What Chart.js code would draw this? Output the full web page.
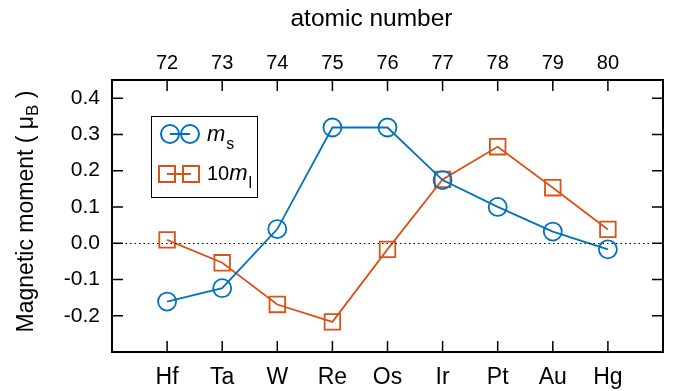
<!DOCTYPE html>
<html>
<head>
<meta charset="utf-8">
<script src="https://cdn.jsdelivr.net/npm/chart.js@4.4.1/dist/chart.umd.min.js"></script>
<style>
  body { margin: 0; background: #fff; }
  canvas { display: block; }
</style>
</head>
<body>
<canvas id="chart" width="679" height="391"></canvas>
<script>
// data
const elements = ['Hf', 'Ta', 'W', 'Re', 'Os', 'Ir', 'Pt', 'Au', 'Hg'];
const atomicNumbers = [72, 73, 74, 75, 76, 77, 78, 79, 80];
const ms = [-0.161, -0.124, 0.039, 0.319, 0.319, 0.174, 0.100, 0.032, -0.017];
const ml10 = [0.009, -0.054, -0.169, -0.217, -0.017, 0.176, 0.266, 0.153, 0.038];
const yTicks = [-0.2, -0.1, 0.0, 0.1, 0.2, 0.3, 0.4];

const FONT = "'Liberation Sans', Arial, Helvetica, sans-serif";
const BLUE = '#0072BD';
const ORANGE = '#D95319';

const positions = elements.map((e, i) => i + 1);

// inward ticks, frame, zero line, titles and legend
const decorations = {
    id: 'decorations',
    afterDatasetsDraw(chart) {
        const { ctx, chartArea: a, scales } = chart;
        const x = scales.x, y = scales.y;
        ctx.save();

        // dotted zero line
        const y0 = Math.round(y.getPixelForValue(0)) + 0.5;
        ctx.strokeStyle = '#000';
        ctx.lineWidth = 1;
        ctx.setLineDash([1.5, 3]);
        ctx.beginPath();
        ctx.moveTo(a.left, y0);
        ctx.lineTo(a.right, y0);
        ctx.stroke();
        ctx.setLineDash([]);

        // tick marks pointing into the plot
        const tl = 11;
        ctx.lineWidth = 1.5;
        ctx.beginPath();
        positions.forEach(p => {
            const px = x.getPixelForValue(p);
            ctx.moveTo(px, a.bottom); ctx.lineTo(px, a.bottom - tl);
            ctx.moveTo(px, a.top); ctx.lineTo(px, a.top + tl);
        });
        yTicks.forEach(v => {
            const py = y.getPixelForValue(v);
            ctx.moveTo(a.left, py); ctx.lineTo(a.left + tl, py);
            ctx.moveTo(a.right, py); ctx.lineTo(a.right - tl, py);
        });
        ctx.stroke();

        // frame
        ctx.lineWidth = 2;
        ctx.strokeRect(a.left, a.top, a.right - a.left, a.bottom - a.top);

        // top title
        ctx.fillStyle = '#000';
        ctx.font = '24.5px ' + FONT;
        ctx.textAlign = 'center';
        ctx.textBaseline = 'alphabetic';
        ctx.fillText('atomic number', 371.5, 26);

        // y title with subscript
        ctx.save();
        ctx.translate(33, 211.5);
        ctx.rotate(-Math.PI / 2);
        ctx.textAlign = 'left';
        ctx.textBaseline = 'alphabetic';
        const main = '23px ' + FONT, sub = '17px ' + FONT;
        const parts = [['Magnetic moment ( \u03bc', main, 0], ['B', sub, 5], [' )', main, 0]];
        let total = 0;
        parts.forEach(p => { ctx.font = p[1]; total += ctx.measureText(p[0]).width; });
        let cx = -total / 2;
        parts.forEach(p => {
            ctx.font = p[1];
            ctx.fillText(p[0], cx, p[2]);
            cx += ctx.measureText(p[0]).width;
        });
        ctx.restore();

        // legend
        ctx.lineWidth = 1;
        ctx.strokeStyle = '#000';
        ctx.strokeRect(151.5, 116.5, 106, 81);

        ctx.lineWidth = 2;
        ctx.strokeStyle = BLUE;
        ctx.beginPath();
        ctx.moveTo(170, 134); ctx.lineTo(190, 134);
        ctx.stroke();
        [170, 190].forEach(cx0 => {
            ctx.beginPath();
            ctx.arc(cx0, 134, 9, 0, Math.PI * 2);
            ctx.stroke();
        });

        ctx.strokeStyle = ORANGE;
        ctx.beginPath();
        ctx.moveTo(167, 174); ctx.lineTo(191, 174);
        ctx.stroke();
        [167, 191].forEach(cx0 => ctx.strokeRect(cx0 - 8, 166, 16, 16));

        ctx.fillStyle = '#000';
        ctx.textAlign = 'left';
        ctx.textBaseline = 'alphabetic';
        ctx.font = 'italic 22px ' + FONT;
        ctx.fillText('m', 207, 141);
        let w = ctx.measureText('m').width;
        ctx.font = '16px ' + FONT;
        ctx.fillText('s', 207 + w + 1, 149);

        ctx.font = '20px ' + FONT;
        ctx.fillText('10', 207, 180);
        w = ctx.measureText('10').width;
        ctx.font = 'italic 22px ' + FONT;
        ctx.fillText('m', 207 + w, 180);
        w += ctx.measureText('m').width;
        ctx.font = '16px ' + FONT;
        ctx.fillText('l', 207 + w + 1, 188);

        ctx.restore();
    }
};

new Chart(document.getElementById('chart'), {
    type: 'line',
    data: {
        datasets: [
            {
                label: 'ms',
                data: ms.map((v, i) => ({ x: positions[i], y: v })),
                borderColor: BLUE,
                backgroundColor: 'transparent',
                borderWidth: 1.8,
                pointStyle: 'circle',
                pointRadius: 9,
                pointBorderWidth: 1.8,
                pointBackgroundColor: 'transparent',
                pointBorderColor: BLUE,
                tension: 0
            },
            {
                label: '10ml',
                data: ml10.map((v, i) => ({ x: positions[i], y: v })),
                borderColor: ORANGE,
                backgroundColor: 'transparent',
                borderWidth: 1.8,
                pointStyle: 'rect',
                pointRadius: 11,
                pointBorderWidth: 1.8,
                pointBackgroundColor: 'transparent',
                pointBorderColor: ORANGE,
                tension: 0
            }
        ]
    },
    options: {
        responsive: false,
        devicePixelRatio: 1,
        animation: false,
        layout: { padding: { left: 0, right: 16, top: 0, bottom: 0 } },
        plugins: {
            legend: { display: false },
            tooltip: { enabled: false }
        },
        scales: {
            x: {
                type: 'linear',
                position: 'bottom',
                min: 0,
                max: 10,
                afterBuildTicks: s => { s.ticks = positions.map(v => ({ value: v })); },
                afterFit: s => { s.height = 39; },
                grid: { display: false },
                border: { display: false },
                ticks: {
                    callback: v => elements[v - 1],
                    color: '#000',
                    font: { family: FONT, size: 23 },
                    padding: 4,
                    maxRotation: 0,
                    autoSkip: false
                }
            },
            x2: {
                type: 'linear',
                position: 'top',
                min: 0,
                max: 10,
                afterBuildTicks: s => { s.ticks = positions.map(v => ({ value: v })); },
                afterFit: s => { s.height = 80; },
                grid: { display: false },
                border: { display: false },
                ticks: {
                    callback: v => atomicNumbers[v - 1],
                    color: '#000',
                    font: { family: FONT, size: 20 },
                    padding: -3,
                    maxRotation: 0,
                    autoSkip: false
                }
            },
            y: {
                min: -0.3,
                max: 0.45,
                afterBuildTicks: s => { s.ticks = yTicks.map(v => ({ value: v })); },
                afterFit: s => { s.width = 112; },
                grid: { display: false },
                border: { display: false },
                ticks: {
                    callback: v => v.toFixed(1),
                    color: '#000',
                    font: { family: FONT, size: 21 },
                    padding: 4
                }
            }
        }
    },
    plugins: [decorations]
});
</script>
</body>
</html>
